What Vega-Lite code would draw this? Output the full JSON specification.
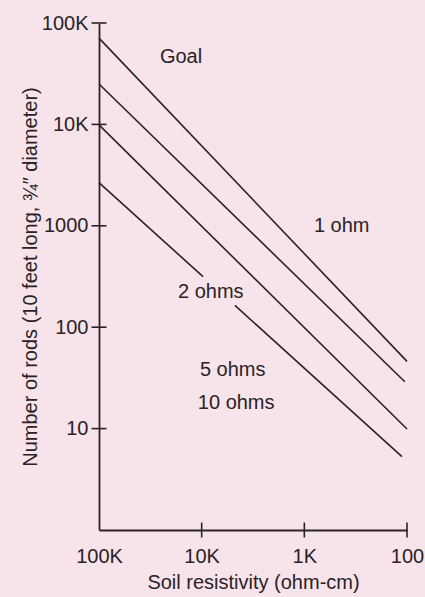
{
  "$schema": "https://vega.github.io/schema/vega-lite/v6.json",
  "autosize": "none",
  "width": 308,
  "height": 507,
  "padding": {"left": 99, "top": 23, "right": 18, "bottom": 67},
  "background": "#f6e4ea",
  "config": {"view": {"stroke": null}, "font": "Liberation Sans"},
  "datasets": {
    "lines": [
      {"series": "1 ohm", "resistivity": 100000, "rods": 71000},
      {"series": "1 ohm", "resistivity": 100, "rods": 46},
      {"series": "2 ohms", "resistivity": 100000, "rods": 25000},
      {"series": "2 ohms", "resistivity": 105, "rods": 29},
      {"series": "5 ohms", "resistivity": 100000, "rods": 9900},
      {"series": "5 ohms", "resistivity": 100, "rods": 9.9},
      {"series": "10 ohms (upper part)", "resistivity": 100000, "rods": 2670},
      {"series": "10 ohms (upper part)", "resistivity": 9700, "rods": 315},
      {"series": "10 ohms (lower part)", "resistivity": 4740, "rods": 164},
      {"series": "10 ohms (lower part)", "resistivity": 112, "rods": 5.3}
    ],
    "labels": [
      {"text": "Goal", "resistivity": 25500, "rods": 46200},
      {"text": "1 ohm", "resistivity": 807, "rods": 1000},
      {"text": "2 ohms", "resistivity": 17000, "rods": 221},
      {"text": "5 ohms", "resistivity": 10400, "rods": 38},
      {"text": "10 ohms", "resistivity": 10900, "rods": 18}
    ],
    "xticks": [{"resistivity": 10000}, {"resistivity": 1000}, {"resistivity": 100}],
    "yticks": [{"rods": 10}, {"rods": 100}, {"rods": 1000}, {"rods": 10000}, {"rods": 100000}]
  },
  "layer": [
    {
      "data": {"name": "lines"},
      "mark": {"type": "line", "color": "#2a2226", "strokeWidth": 1.6},
      "encoding": {
        "x": {
          "field": "resistivity", "type": "quantitative",
          "scale": {"type": "log", "domain": [100, 100000], "reverse": true, "nice": false},
          "axis": {
            "title": "Soil resistivity (ohm-cm)",
            "values": [100000, 10000, 1000, 100],
            "labelExpr": "datum.value >= 1000 ? format(datum.value / 1000, 'd') + 'K' : format(datum.value, 'd')",
            "ticks": false, "grid": false,
            "domainColor": "#2a2226", "domainWidth": 1.8,
            "labelFontSize": 20, "labelColor": "#2a2226", "labelPadding": 16,
            "labelFlush": false, "labelOverlap": false,
            "titleFontSize": 20, "titleFontWeight": "normal", "titleColor": "#2a2226", "titlePadding": 6
          }
        },
        "y": {
          "field": "rods", "type": "quantitative",
          "scale": {"type": "log", "domain": [1, 100000], "nice": false},
          "axis": {
            "title": "Number of rods (10 feet long, ¾″ diameter)",
            "values": [10, 100, 1000, 10000, 100000],
            "labelExpr": "datum.value >= 10000 ? format(datum.value / 1000, 'd') + 'K' : format(datum.value, 'd')",
            "ticks": false, "grid": false,
            "domainColor": "#2a2226", "domainWidth": 1.8,
            "labelFontSize": 20, "labelColor": "#2a2226", "labelPadding": 11,
            "labelFlush": false, "labelOverlap": false,
            "titleFontSize": 20, "titleFontWeight": "normal", "titleColor": "#2a2226", "titlePadding": 1
          }
        },
        "detail": {"field": "series"}
      }
    },
    {
      "data": {"name": "xticks"},
      "mark": {"type": "tick", "orient": "vertical", "size": 15, "thickness": 1.6, "color": "#2a2226", "opacity": 1},
      "encoding": {
        "x": {"field": "resistivity", "type": "quantitative"},
        "y": {"datum": 1}
      }
    },
    {
      "data": {"name": "yticks"},
      "mark": {"type": "tick", "orient": "horizontal", "size": 15, "thickness": 1.6, "color": "#2a2226", "opacity": 1},
      "encoding": {
        "y": {"field": "rods", "type": "quantitative"},
        "x": {"datum": 100000}
      }
    },
    {
      "data": {"name": "labels"},
      "mark": {"type": "text", "align": "left", "baseline": "middle", "fontSize": 20, "color": "#2a2226"},
      "encoding": {
        "x": {"field": "resistivity", "type": "quantitative"},
        "y": {"field": "rods", "type": "quantitative"},
        "text": {"field": "text"}
      }
    }
  ]
}
